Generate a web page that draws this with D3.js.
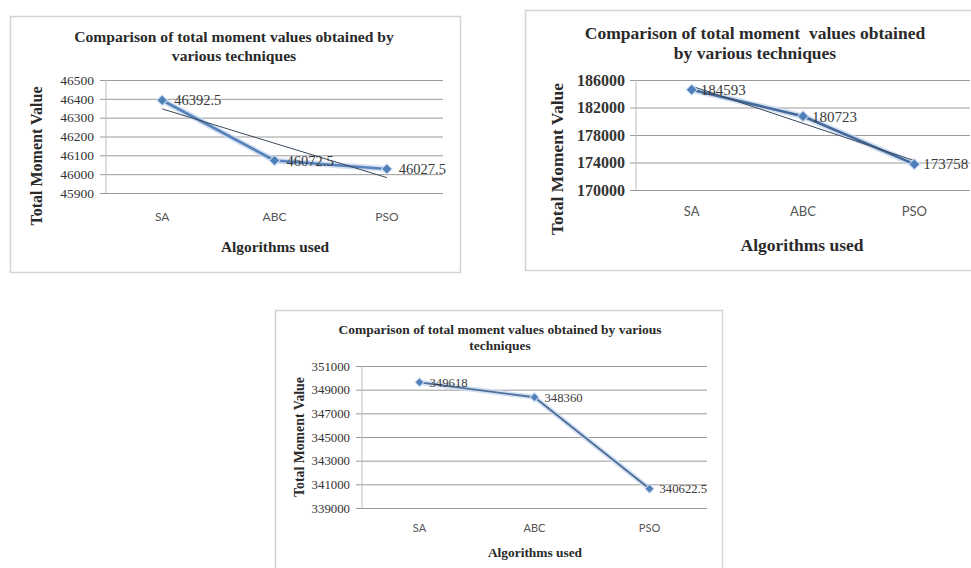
<!DOCTYPE html>
<html><head><meta charset="utf-8">
<script src="https://cdn.jsdelivr.net/npm/d3@7"></script>
<style>
html,body{margin:0;padding:0;background:#fff;overflow:hidden}
svg{display:block}
text{font-family:"Liberation Serif","DejaVu Serif",serif}
</style></head>
<body>
<svg id="c" width="971" height="568"></svg>
<script>
// ---- data ----
const categories = ["SA", "ABC", "PSO"];
const values1 = [46392.5, 46072.5, 46027.5];
const ticks1 = [45900, 46000, 46100, 46200, 46300, 46400, 46500];
const labels1 = ["46392.5", "46072.5", "46027.5"];
const values2 = [184593, 180723, 173758];
const ticks2 = [170000, 174000, 178000, 182000, 186000];
const labels2 = ["184593", "180723", "173758"];
const values3 = [349618, 348360, 340622.5];
const ticks3 = [339000, 341000, 343000, 345000, 347000, 349000, 351000];
const labels3 = ["349618", "348360", "340622.5"];
const title1 = ["Comparison of total moment values obtained by", "various techniques"];
const title2 = ["Comparison of total moment  values obtained", "by various techniques"];
const title3 = ["Comparison of total moment values obtained by various", "techniques"];
const xTitle = "Algorithms used";
const yTitle = "Total Moment Value";

const svg = d3.select("#c");

function drawChart(cfg) {
  const g = svg.append("g");
  g.append("rect").attr("x", cfg.box[0] + 0.5).attr("y", cfg.box[1] + 0.5)
    .attr("width", cfg.box[2] - cfg.box[0]).attr("height", cfg.box[3] - cfg.box[1])
    .attr("fill", "#fff").attr("stroke", "#d4d4d4").attr("stroke-width", 1.5);
  cfg.title.forEach((t, i) => {
    g.append("text").attr("x", cfg.titleX).attr("y", cfg.titleY[i])
      .attr("text-anchor", "middle").attr("font-weight", "bold")
      .attr("font-size", cfg.titleSize).attr("fill", "#2a2a2a")
      .style("white-space", "pre").text(t);
  });
  const x = d3.scaleBand().domain(categories).range([cfg.left, cfg.right]);
  const y = d3.scaleLinear().domain(d3.extent(cfg.ticks)).range([cfg.bottom, cfg.top]);
  const ax = d3.axisLeft(y).tickValues(cfg.ticks).tickSize(-(cfg.right - cfg.left) - 6)
    .tickPadding(cfg.tickPad).tickFormat(d3.format("d"));
  const ag = g.append("g").attr("transform", `translate(${cfg.left - 6},0)`).call(ax);
  ag.select(".domain").remove();
  ag.selectAll(".tick line").attr("stroke", "#9a9a9a").attr("stroke-width", 1);
  ag.selectAll(".tick text").attr("font-size", cfg.tickSize).attr("fill", "#333")
    .attr("font-weight", cfg.tickWeight).style("font-family", '"Liberation Serif",serif');
  g.append("line").attr("x1", cfg.left).attr("x2", cfg.left).attr("y1", cfg.top).attr("y2", cfg.bottom)
    .attr("stroke", "#bdbdbd");
  const xa = d3.axisBottom(x).tickSize(0).tickPadding(cfg.xPad);
  const xg = g.append("g").attr("transform", `translate(0,${cfg.bottom})`).call(xa);
  xg.select(".domain").remove();
  xg.selectAll(".tick text").attr("font-size", cfg.xSize).attr("fill", "#555")
    .style("font-family", 'Lato,"Liberation Sans",sans-serif');
  g.append("text").attr("x", cfg.xTitleX).attr("y", cfg.xTitleY).attr("text-anchor", "middle")
    .attr("font-weight", "bold").attr("font-size", cfg.axisTitleSize).attr("fill", "#2a2a2a").text(xTitle);
  g.append("text").attr("transform", `translate(${cfg.yTitleX},${cfg.yTitleY}) rotate(-90)`)
    .attr("text-anchor", "middle").attr("font-weight", "bold").attr("font-size", cfg.yTitleSize)
    .attr("fill", "#2a2a2a").text(yTitle);
  const cx = d => x(d) + x.bandwidth() / 2;
  const pts = categories.map((c, i) => [cx(c), y(cfg.values[i])]);
  const line = d3.line();
  g.append("path").attr("d", line(pts)).attr("fill", "none").attr("stroke", "#c9daf0")
    .attr("stroke-width", cfg.lineW + 3.5).attr("stroke-linejoin", "round").attr("opacity", 0.8);
  g.append("path").attr("d", line(pts)).attr("fill", "none").attr("stroke", cfg.lineColor)
    .attr("stroke-width", cfg.lineW).attr("stroke-linejoin", "round");
  if (cfg.trend) {
    const n = cfg.values.length, xs = d3.range(1, n + 1);
    const mx = d3.mean(xs), my = d3.mean(cfg.values);
    const b = d3.sum(xs, (v, i) => (v - mx) * (cfg.values[i] - my)) / d3.sum(xs, v => (v - mx) ** 2);
    const a = my - b * mx;
    const tp = [[cx(categories[0]), y(a + b * 1)], [cx(categories[n - 1]), y(a + b * n)]];
    g.append("path").attr("d", line(tp)).attr("fill", "none").attr("stroke", "#3a4a5c").attr("stroke-width", 1);
  }
  g.selectAll(".m").data(pts).enter().append("path")
    .attr("transform", d => `translate(${d[0]},${d[1]}) rotate(45)`)
    .attr("d", d3.symbol().type(d3.symbolSquare).size(cfg.markerSize)())
    .attr("fill", "#4f7fb8").attr("stroke", "#c9daf0").attr("stroke-width", 1);
  g.selectAll(".vl").data(pts).enter().append("text")
    .attr("x", d => d[0] + cfg.labelDx).attr("y", d => d[1] + cfg.labelSize * 0.35)
    .attr("font-size", cfg.labelSize).attr("fill", "#3a3a3a")
    .text((d, i) => cfg.labels[i]);
}

drawChart({
  box: [10, 16, 460, 272], title: title1, titleX: 234, titleY: [42, 61], titleSize: 15.6,
  left: 106, right: 443, top: 80, bottom: 193, ticks: ticks1, values: values1, labels: labels1,
  tickPad: 6, tickSize: 13.5, tickWeight: "normal", xPad: 19, xSize: 12,
  xTitleX: 275, xTitleY: 252, axisTitleSize: 15.4, yTitleX: 42, yTitleY: 156, yTitleSize: 16,
  labelDx: 12, labelSize: 14.5, markerSize: 55, trend: true, lineColor: "#5582bb", lineW: 2.6
});
drawChart({
  box: [525, 10, 985, 270], title: title2, titleX: 755, titleY: [39, 59], titleSize: 17.5,
  left: 636, right: 970, top: 80, bottom: 190, ticks: ticks2, values: values2, labels: labels2,
  tickPad: 5, tickSize: 16, tickWeight: "bold", xPad: 17, xSize: 13,
  xTitleX: 802, xTitleY: 251, axisTitleSize: 17.5, yTitleX: 563, yTitleY: 159, yTitleSize: 17.5,
  labelDx: 9, labelSize: 15, markerSize: 60, trend: true, lineColor: "#44689a", lineW: 2.6
});
drawChart({
  box: [275, 310, 722, 600], title: title3, titleX: 500, titleY: [334, 350], titleSize: 13.5,
  left: 362, right: 707, top: 366, bottom: 508, ticks: ticks3, values: values3, labels: labels3,
  tickPad: 6, tickSize: 12.8, tickWeight: "normal", xPad: 16, xSize: 11,
  xTitleX: 535, xTitleY: 557, axisTitleSize: 13.4, yTitleX: 304, yTitleY: 437, yTitleSize: 13.8,
  labelDx: 10, labelSize: 12.7, markerSize: 40, trend: false, lineColor: "#4d6f98", lineW: 1.8
});
</script>
</body></html>
